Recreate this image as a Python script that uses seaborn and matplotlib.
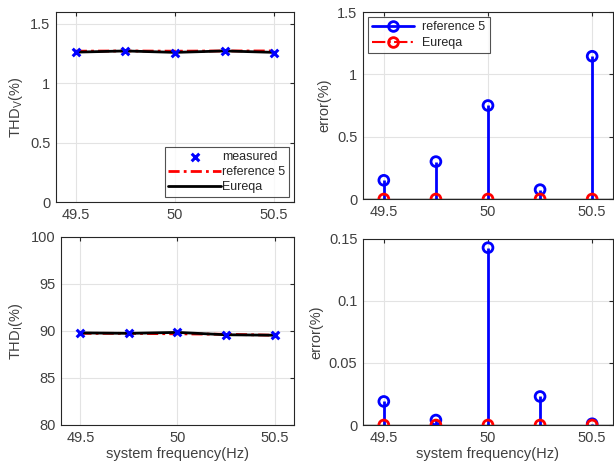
import numpy as np
import pandas as pd
import matplotlib
matplotlib.use("Agg")
import matplotlib.pyplot as plt
from matplotlib.lines import Line2D
from matplotlib.legend_handler import HandlerLine2D
import seaborn as sns

freq = [49.5, 49.75, 50.0, 50.25, 50.5]
thdv_measured = [1.265, 1.275, 1.258, 1.275, 1.258]
thdv_ref5 = [1.27, 1.272, 1.27, 1.272, 1.272]
thdv_eureqa = [1.262, 1.272, 1.26, 1.272, 1.26]
errv_ref5 = [0.15, 0.30, 0.75, 0.075, 1.145]
errv_eureqa = [0.0, 0.0, 0.0, 0.0, 0.0]
thdi_measured = [89.8, 89.75, 89.85, 89.6, 89.55]
thdi_ref5 = [89.75, 89.75, 89.7, 89.65, 89.55]
thdi_eureqa = [89.8, 89.75, 89.85, 89.6, 89.55]
erri_ref5 = [0.019, 0.004, 0.143, 0.023, 0.001]
erri_eureqa = [0.0, 0.0, 0.0, 0.0, 0.0]

sns.set_style("white")
plt.rcParams['font.family'] = ['Liberation Sans', 'DejaVu Sans']
TXT = '#404040'
FS = 10.5

fig = plt.figure(figsize=(6.14, 4.69), dpi=100)
W, H = 614, 469
def box(l, t, r, b):
    return [l / W, (H - b) / H, (r - l) / W, (b - t) / H]

ax1 = fig.add_axes(box(56, 12, 294, 202))
ax2 = fig.add_axes(box(363, 12, 613, 199))
ax3 = fig.add_axes(box(61, 237, 294, 425))
ax4 = fig.add_axes(box(363, 239, 613, 425))


class RightMarkerHandler(HandlerLine2D):
    def get_xdata(self, legend, xdescent, ydescent, width, height, fontsize):
        xdata = np.array([-xdescent, -xdescent + width])
        xmark = np.array([-xdescent + width * 0.82])
        return xdata, xmark


def style(ax, ylim, yticks, ylabel, xlabel=None):
    ax.set_xlim(49.4, 50.6)
    ax.set_ylim(*ylim)
    ax.set_xticks([49.5, 50, 50.5])
    ax.set_xticklabels(['49.5', '50', '50.5'])
    ax.set_yticks(yticks)
    ax.grid(True, color='#e3e3e3', lw=0.8)
    ax.set_axisbelow(True)
    for s in ax.spines.values():
        s.set_color('#262626')
        s.set_linewidth(0.8)
    ax.tick_params(direction='in', length=3, colors='#262626', labelcolor=TXT,
                   labelsize=FS, top=True, right=True, pad=4)
    ax.set_ylabel(ylabel, fontsize=FS, color=TXT, labelpad=4)
    if xlabel:
        ax.set_xlabel(xlabel, fontsize=FS, color=TXT, labelpad=2)


def thd_panel(ax, meas, ref, eur, leg):
    df = pd.DataFrame({'f': freq, 'm': meas, 'r': ref, 'e': eur})
    sns.scatterplot(data=df, x='f', y='m', ax=ax, marker='x', color='blue', s=30,
                    linewidth=2.2, label='measured', zorder=4)
    sns.lineplot(data=df, x='f', y='r', ax=ax, color='red', lw=2,
                 label='reference 5', zorder=3)
    ax.lines[-1].set_linestyle((0, (4, 1.5, 1, 1.5)))
    sns.lineplot(data=df, x='f', y='e', ax=ax, color='black', lw=2,
                 label='Eureqa', zorder=3)
    if leg:
        lg = ax.legend(loc='lower right', fontsize=9, frameon=True, fancybox=False,
                       edgecolor='#262626', handlelength=4.2, handletextpad=0.1,
                       borderpad=0.3, labelspacing=0.25, borderaxespad=0.4)
        lg.get_frame().set_linewidth(0.8)
        for t in lg.get_texts():
            t.set_color('#262626')
    else:
        ax.get_legend().remove()
    ax.set_xlabel('')


def err_panel(ax, ref, eur, leg):
    df = pd.DataFrame({'f': freq, 'r': ref, 'e': eur})
    ax.vlines(df['f'], 0, df['r'], color='blue', lw=2, zorder=2)
    ax.vlines(df['f'], 0, df['e'], color='red', lw=2, linestyles='-.', zorder=2)
    ax.axhline(0, color='black', lw=1, zorder=2.5)
    sns.scatterplot(data=df, x='f', y='r', ax=ax, marker='o', s=50,
                    facecolor='none', edgecolor='blue', linewidth=2, zorder=3,
                    legend=False)
    sns.scatterplot(data=df, x='f', y='e', ax=ax, marker='o', s=50,
                    facecolor='none', edgecolor='red', linewidth=2, zorder=4,
                    legend=False)
    if leg:
        h = [Line2D([], [], color='blue', lw=2, marker='o', mfc='none', mec='blue',
                    mew=2, ms=7),
             Line2D([], [], color='red', lw=1.5, ls='-.', marker='o', mfc='none', mec='red',
                    mew=2, ms=7)]
        lg = ax.legend(h, ['reference 5', 'Eureqa'], loc='upper left', fontsize=9,
                       frameon=True, fancybox=False, edgecolor='#262626',
                       handlelength=3.3, handletextpad=0.7, borderpad=0.35,
                       labelspacing=0.3, borderaxespad=0.4, numpoints=1,
                       handler_map={Line2D: RightMarkerHandler()})
        lg.get_frame().set_linewidth(0.8)
        for t in lg.get_texts():
            t.set_color('#262626')
    ax.set_xlabel('')


thd_panel(ax1, thdv_measured, thdv_ref5, thdv_eureqa, True)
style(ax1, (0, 1.6), [0, 0.5, 1, 1.5], r'THD$_\mathregular{V}$(%)')
ax1.set_yticklabels(['0', '0.5', '1', '1.5'])

err_panel(ax2, errv_ref5, errv_eureqa, True)
style(ax2, (0, 1.5), [0, 0.5, 1, 1.5], 'error(%)')
ax2.set_yticklabels(['0', '0.5', '1', '1.5'])

thd_panel(ax3, thdi_measured, thdi_ref5, thdi_eureqa, False)
style(ax3, (80, 100), [80, 85, 90, 95, 100], r'THD$_\mathregular{I}$(%)',
      'system frequency(Hz)')

err_panel(ax4, erri_ref5, erri_eureqa, False)
style(ax4, (0, 0.15), [0, 0.05, 0.1, 0.15], 'error(%)', 'system frequency(Hz)')
ax4.set_yticklabels(['0', '0.05', '0.1', '0.15'])

fig.savefig('out.png', dpi=100)
